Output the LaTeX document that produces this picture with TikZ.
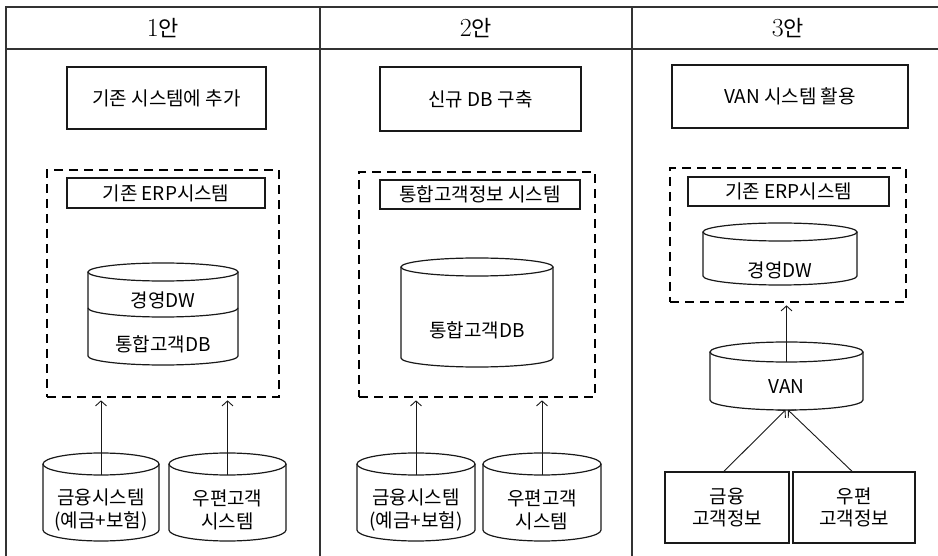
\documentclass[tikz,border=0pt]{standalone}
\usepackage{fontspec}
\setmainfont{Noto Sans CJK KR}
\newfontfamily\lmr{Latin Modern Roman}
\usetikzlibrary{arrows.meta}
\tikzset{
  tbl/.style={draw=black!80, line width=1.2pt},
  box/.style={draw=black!90, line width=1.4pt, inner sep=0pt, font=\fontsize{19}{22.5}\selectfont, align=center},
  dashbox/.style={draw=black, line width=2.7pt, dash pattern=on 9pt off 6pt, inner sep=0pt},
  cylline/.style={draw=black!90, line width=1.2pt},
  lbl/.style={font=\fontsize{19}{22.5}\selectfont, align=center, inner sep=0pt},
  hdr/.style={font=\fontsize{22}{24}\selectfont, inner sep=0pt},
  arr/.style={draw=black!90, line width=0.9pt, -{Straight Barb[length=5pt,width=11pt]}},
}
% name, cx, rx, y of top ellipse centre, y of bottom arc centre, ry
\newcommand\dbcyl[6]{%
  \draw[cylline] (#2,#4) ellipse [x radius=#3pt, y radius=#6pt];
  \draw[cylline] (#2-#3,#4) -- (#2-#3,#5) arc[start angle=180, end angle=360, x radius=#3pt, y radius=#6pt] -- (#2+#3,#4);
  \coordinate (#1-front) at (#2,#4+#6);
}
\begin{document}
\begin{tikzpicture}[x=1pt,y=-1pt]
\useasboundingbox[fill=white] (0,0) rectangle (938,556);
% table
\draw[tbl] (938,7) -- (6,7) -- (6,556);
\draw[tbl] (6,49) -- (938,49);
\draw[tbl] (320,7) -- (320,556);
\draw[tbl] (632,7) -- (632,556);
\node[hdr] (h1) at (163,28) {{\fontsize{26}{26}\selectfont\lmr 1}안};
\node[hdr] (h2) at (476,28) {{\fontsize{26}{26}\selectfont\lmr 2}안};
\node[hdr] (h3) at (788,28) {{\fontsize{26}{26}\selectfont\lmr 3}안};

% ---------- column 1 ----------
\node[box, minimum width=199pt, minimum height=62pt] (t1) at (166.5,98) {기존 시스템에 추가};
\node[dashbox, minimum width=232pt, minimum height=227pt] (d1) at (163,283.5) {};
\node[box, minimum width=198pt, minimum height=30pt] (e1) at (166,193) {기존 ERP시스템};
\dbcyl{m1}{163}{75}{272}{356}{9}
\draw[cylline] (88,308) arc[start angle=180, end angle=360, x radius=75pt, y radius=9pt];
\node[lbl] (m1a) at (163,300) {경영DW};
\node[lbl] (m1b) at (163,344) {통합고객DB};
\dbcyl{f1}{101}{58}{464}{530}{11}
\dbcyl{p1}{227.5}{58.5}{464}{530}{11}
\node[lbl] (f1t) at (101,510) {금융시스템\\(예금+보험)};
\node[lbl] (p1t) at (227.5,510) {우편고객\\시스템};
\draw[arr, shorten >=2pt] (f1-front) -- (f1-front |- d1.south);
\draw[arr, shorten >=2pt] (p1-front) -- (p1-front |- d1.south);

% ---------- column 2 ----------
\node[box, minimum width=201pt, minimum height=64pt] (t2) at (480.5,99) {신규 DB 구축};
\node[dashbox, minimum width=236pt, minimum height=225pt] (d2) at (477,284.5) {};
\node[box, minimum width=200pt, minimum height=29pt] (e2) at (480,194.5) {통합고객정보 시스템};
\dbcyl{m2}{477}{76}{267}{358}{9}
\node[lbl] (m2a) at (477,330) {통합고객DB};
\dbcyl{f2}{416}{59}{464}{530}{11}
\dbcyl{p2}{542}{59}{464}{530}{11}
\node[lbl] (f2t) at (416,510) {금융시스템\\(예금+보험)};
\node[lbl] (p2t) at (542,510) {우편고객\\시스템};
\draw[arr, shorten >=2pt] (f2-front) -- (f2-front |- d2.south);
\draw[arr, shorten >=2pt] (p2-front) -- (p2-front |- d2.south);

% ---------- column 3 ----------
\node[box, minimum width=236pt, minimum height=63pt] (t3) at (790,96.5) {VAN 시스템 활용};
\node[dashbox, minimum width=236pt, minimum height=134pt] (d3) at (788,235) {};
\node[box, minimum width=201pt, minimum height=29pt] (e3) at (788.5,191.5) {기존 ERP시스템};
\dbcyl{m3}{780}{77}{232}{276}{9}
\node[lbl] (m3a) at (780,270) {경영DW};
\dbcyl{v3}{786.5}{76.5}{352}{400}{10}
\node[lbl] (v3a) at (786.5,387) {VAN};
\coordinate (v3b) at (786.5,410);
\node[box, minimum width=124pt, minimum height=71pt] (g3) at (727,507.5) {금융\\고객정보};
\node[box, minimum width=122pt, minimum height=71pt] (u3) at (854,507.5) {우편\\고객정보};
\draw[arr, shorten >=2pt] (v3-front) -- (v3-front |- d3.south);
\draw[arr] (g3.north -| 724,0) -- ([xshift=-1pt]v3b);
\draw[arr] (u3.north -| 852,0) -- ([xshift=1.5pt]v3b);
\end{tikzpicture}
\end{document}
